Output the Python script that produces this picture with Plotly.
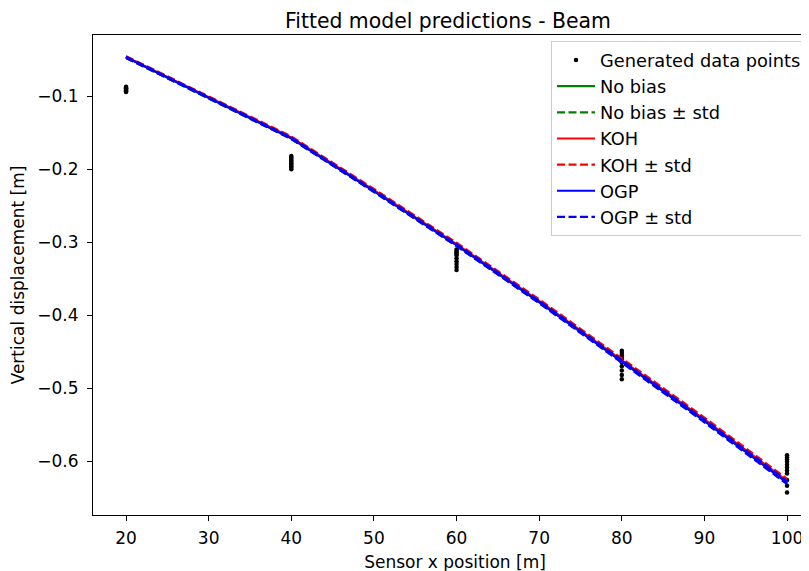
import plotly.graph_objects as go

# Sensor positions and generated measurements
pts_x20 = [-0.087, -0.088, -0.089, -0.090, -0.091, -0.092, -0.093, -0.094]
pts_x40 = [-0.182, -0.184, -0.186, -0.188, -0.190, -0.192, -0.194, -0.196, -0.198, -0.200]
pts_x60 = [-0.310, -0.312, -0.314, -0.316, -0.318, -0.322, -0.326, -0.330, -0.334, -0.338]
pts_x80 = [-0.449, -0.452, -0.455, -0.458, -0.461, -0.465, -0.470, -0.476, -0.482, -0.488]
pts_x100 = [-0.592, -0.595, -0.598, -0.601, -0.605, -0.609, -0.613, -0.617, -0.626, -0.634, -0.643]

# Model prediction grid
x_pred = [20, 30, 40, 50, 60, 70, 80, 90, 100]
nobias_mean = [-0.0466, -0.1015, -0.1575, -0.2300, -0.3040, -0.3820, -0.4630, -0.5450, -0.6295]
nobias_std = [0.001, 0.001, 0.001, 0.001, 0.001, 0.001, 0.001, 0.001, 0.001]
koh_mean = [-0.0462, -0.1008, -0.1565, -0.2288, -0.3028, -0.3805, -0.4612, -0.5430, -0.6272]
koh_std = [0.0010, 0.0012, 0.0015, 0.0018, 0.0020, 0.0022, 0.0024, 0.0026, 0.0028]
ogp_mean = [-0.0466, -0.1015, -0.1575, -0.2300, -0.3040, -0.3820, -0.4630, -0.5450, -0.6295]
ogp_std = [0.0008, 0.0009, 0.0010, 0.0012, 0.0014, 0.0016, 0.0018, 0.0020, 0.0022]

x_ticks = [20, 30, 40, 50, 60, 70, 80, 90, 100]
y_ticks = [-0.1, -0.2, -0.3, -0.4, -0.5, -0.6]

data_x = [20] * len(pts_x20) + [40] * len(pts_x40) + [60] * len(pts_x60) + [80] * len(pts_x80) + [100] * len(pts_x100)
data_y = pts_x20 + pts_x40 + pts_x60 + pts_x80 + pts_x100

FONT = "DejaVu Sans"
FS = 17
LFS = 17.8
LW = 2.2
DASH = "8px,3.5px"

fig = go.Figure()
fig.add_trace(go.Scatter(x=data_x, y=data_y, mode="markers", name="Generated data points",
                         marker=dict(color="black", size=4.5), legendgroup="a"))

def band(mean, std, color, name, group):
    fig.add_trace(go.Scatter(x=x_pred, y=mean, mode="lines", name=name,
                             line=dict(color=color, width=LW), legendgroup=group + "m"))
    up = [m + s for m, s in zip(mean, std)]
    lo = [m - s for m, s in zip(mean, std)]
    fig.add_trace(go.Scatter(x=x_pred, y=up, mode="lines", name=name + " ± std",
                             line=dict(color=color, width=LW, dash=DASH), legendgroup=group + "s"))
    fig.add_trace(go.Scatter(x=x_pred, y=lo, mode="lines", name=name + " ± std", showlegend=False,
                             line=dict(color=color, width=LW, dash=DASH), legendgroup=group + "s"))

band(nobias_mean, nobias_std, "green", "No bias", "nb")
band(koh_mean, koh_std, "red", "KOH", "koh")
band(ogp_mean, ogp_std, "blue", "OGP", "ogp")

# page is offset by 8px (body margin); plot area on screen: x 93..817, y 35..515
W, H = 809, 571
L, T, B, R = 85, 27, 64, 0
pw = W - L - R
fig.update_layout(
    width=W, height=H,
    margin=dict(l=L, r=R, t=T, b=B, autoexpand=False),
    plot_bgcolor="white", paper_bgcolor="white",
    font=dict(family=FONT, size=FS, color="black"),
    title=dict(text="Fitted model predictions - Beam", x=440 / W, xanchor="center",
               y=1 - 12.5 / H, yanchor="middle", font=dict(size=20.4, family=FONT)),
    showlegend=True,
    legend=dict(x=(799 - L) / pw, xanchor="right", y=1 - 6 / (H - T - B), yanchor="top",
                bordercolor="#cccccc", borderwidth=1, bgcolor="rgba(255,255,255,0.8)",
                tracegroupgap=0, itemwidth=38, font=dict(size=LFS, family=FONT)),
)
fig.update_xaxes(range=[16, 16 + pw / 8.2625], tickvals=x_ticks, ticks="outside", ticklen=5, tickwidth=1,
                 tickcolor="black", showline=True, linecolor="black", linewidth=1.2, mirror=True,
                 showgrid=False, zeroline=False, automargin=False, ticklabelstandoff=2,
                 title=dict(text="Sensor x position [m]", standoff=9, font=dict(size=FS)))
fig.update_yaxes(range=[-0.674, -0.016], tickvals=y_ticks, tickformat=".1f", ticks="outside", ticklen=5,
                 tickwidth=1, tickcolor="black", showline=True, linecolor="black", linewidth=1.2,
                 mirror=False, showgrid=False, zeroline=False, automargin=False, ticklabelstandoff=5,
                 title=dict(text="Vertical displacement [m]", standoff=14, font=dict(size=FS)))

fig.write_html("out.html")
